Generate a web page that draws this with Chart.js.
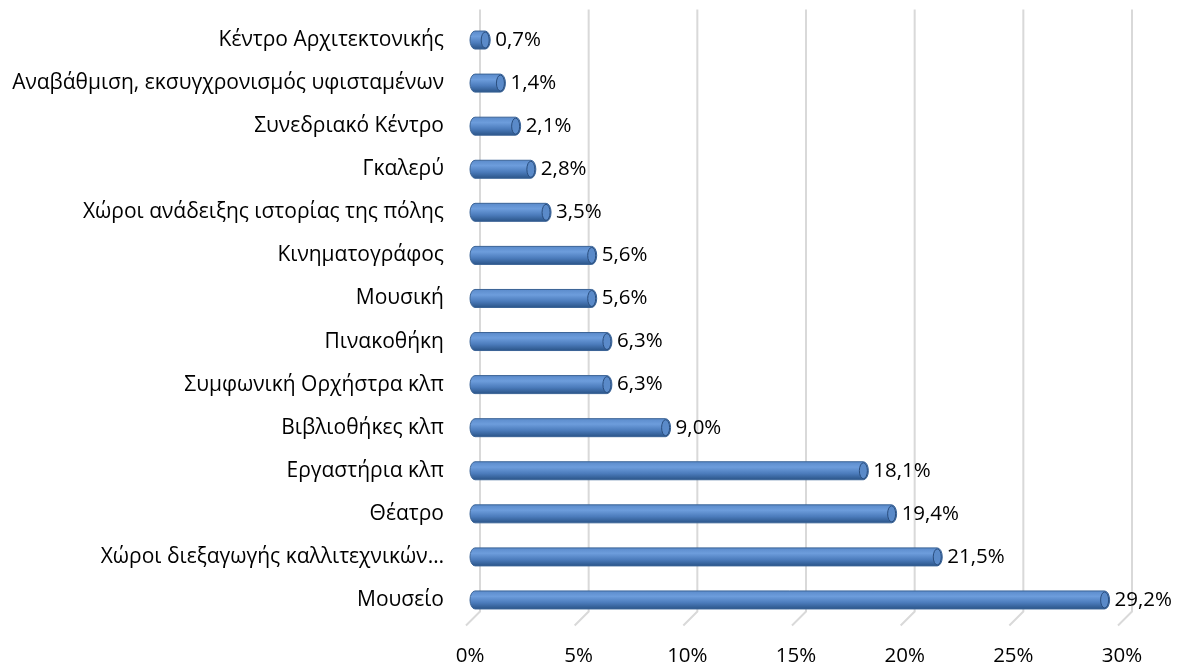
<!DOCTYPE html>
<html>
<head>
<meta charset="utf-8">
<script src="https://cdn.jsdelivr.net/npm/chart.js@4.4.1/dist/chart.umd.min.js"></script>
<style>
  html, body { margin: 0; padding: 0; background: #fff; }
  #wrap { width: 1179px; height: 668px; position: relative; }
</style>
</head>
<body>
<div id="wrap"><canvas id="chart"></canvas></div>
<script>
// Chart data
const categories = [
    'Κέντρο Αρχιτεκτονικής',
    'Αναβάθμιση, εκσυγχρονισμός υφισταμένων',
    'Συνεδριακό Κέντρο',
    'Γκαλερύ',
    'Χώροι ανάδειξης ιστορίας της πόλης',
    'Κινηματογράφος',
    'Μουσική',
    'Πινακοθήκη',
    'Συμφωνική Ορχήστρα κλπ',
    'Βιβλιοθήκες κλπ',
    'Εργαστήρια κλπ',
    'Θέατρο',
    'Χώροι διεξαγωγής καλλιτεχνικών…',
    'Μουσείο'
];
const shares = [0.7, 1.4, 2.1, 2.8, 3.5, 5.6, 5.6, 6.3, 6.3, 9.0, 18.1, 19.4, 21.5, 29.2];
const xTicks = [0, 5, 10, 15, 20, 25, 30];

const FONT = '"Open Sans", "Noto Sans", sans-serif';
const fmt = v => v.toFixed(1).replace('.', ',') + '%';

// Back-plane gridlines with the little 3D foot
const gridPlugin = {
    id: 'grid3d',
    beforeDatasetsDraw: (chart) => {
        const { ctx, chartArea, scales } = chart;
        ctx.save();
        ctx.strokeStyle = '#d9d9d9';
        ctx.lineWidth = 2;
        xTicks.forEach(t => {
            const x = scales.x.getPixelForValue(t);
            ctx.beginPath();
            ctx.moveTo(x + 10, chartArea.top - 9);
            ctx.lineTo(x + 10, chartArea.bottom - 10);
            ctx.lineTo(x - 4, chartArea.bottom + 4);
            ctx.stroke();
        });
        ctx.restore();
    }
};

// Cylinder-looking bars + value labels
const barPlugin = {
    id: 'cylBars',
    afterDatasetsDraw: (chart) => {
        const { ctx } = chart;
        const meta = chart.getDatasetMeta(0);
        meta.data.forEach((bar, i) => {
            const h = 18;
            const y0 = bar.y - h / 2;
            const x0 = bar.base;
            const x1 = bar.x;
            const rx = 5;

            const g = ctx.createLinearGradient(0, y0, 0, y0 + h);
            g.addColorStop(0, '#5b8bcb');
            g.addColorStop(0.3, '#6d9ddc');
            g.addColorStop(0.65, '#4c7cbc');
            g.addColorStop(1, '#2b5589');

            ctx.save();
            ctx.fillStyle = g;
            ctx.beginPath();
            ctx.moveTo(x0 + rx, y0);
            ctx.lineTo(x1, y0);
            ctx.ellipse(x1, bar.y, rx, h / 2, 0, -Math.PI / 2, Math.PI / 2);
            ctx.lineTo(x0 + rx, y0 + h);
            ctx.ellipse(x0 + rx, bar.y, rx, h / 2, 0, Math.PI / 2, Math.PI * 1.5);
            ctx.closePath();
            ctx.fill();
            ctx.strokeStyle = '#3a6396';
            ctx.lineWidth = 1;
            ctx.stroke();

            // end cap
            ctx.beginPath();
            ctx.ellipse(x1, bar.y, rx - 1, h / 2 - 1, 0, 0, Math.PI * 2);
            ctx.fillStyle = '#5a8ac9';
            ctx.fill();
            ctx.strokeStyle = '#2a4e7e';
            ctx.stroke();

            // value label
            ctx.fillStyle = '#000';
            ctx.font = '20.5px ' + FONT;
            ctx.textAlign = 'left';
            ctx.textBaseline = 'middle';
            ctx.fillText(fmt(shares[i]), x1 + 10, bar.y);
            ctx.restore();
        });
    }
};

new Chart(document.getElementById('chart'), {
    type: 'bar',
    data: {
        labels: categories,
        datasets: [{
            data: shares,
            backgroundColor: 'transparent',
            borderWidth: 0,
            barThickness: 18
        }]
    },
    options: {
        indexAxis: 'y',
        responsive: true,
        maintainAspectRatio: false,
        animation: false,
        layout: { padding: { top: 18.5, right: 57, bottom: 0, left: 0 } },
        plugins: { legend: { display: false }, tooltip: { enabled: false } },
        scales: {
            x: {
                min: 0,
                max: 30,
                afterBuildTicks: (scale) => { scale.ticks = xTicks.map(v => ({ value: v })); },
                afterFit: (scale) => { scale.height = 46.5; scale.paddingLeft = 0; scale.paddingRight = 0; },
                grid: { display: false, drawTicks: false },
                border: { display: false },
                ticks: {
                    padding: 22,
                    color: '#000',
                    font: { family: FONT, size: 20.5 },
                    callback: v => v + '%'
                }
            },
            y: {
                afterFit: (scale) => { scale.width = 470; scale.paddingTop = 0; scale.paddingBottom = 0; },
                grid: { display: false, drawTicks: false },
                border: { display: false },
                ticks: {
                    padding: 26,
                    color: '#000',
                    font: { family: FONT, size: 21 }
                }
            }
        }
    },
    plugins: [gridPlugin, barPlugin]
});
</script>
</body>
</html>
